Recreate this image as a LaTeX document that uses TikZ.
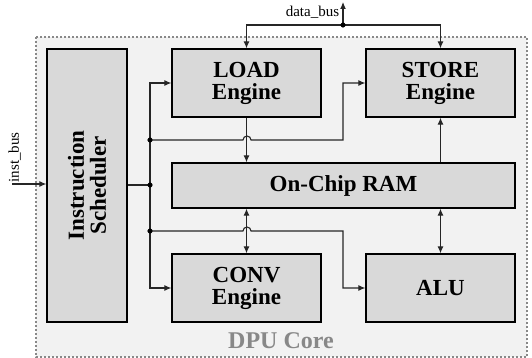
\documentclass[tikz,border=0pt]{standalone}
\usepackage{fontspec}
\setmainfont{Liberation Serif}
\usetikzlibrary{%
	calc,%
	arrows.meta%
}

\definecolor{coregray}{RGB}{242,242,242}
\definecolor{boxgray}{RGB}{217,217,217}
\definecolor{labelgray}{RGB}{136,136,136}

\tikzset{
	unit/.style={draw=black, line width=1.3pt, fill=boxgray, align=center,
		font=\fontsize{23}{22}\selectfont\bfseries, inner sep=0pt},
	link/.style={draw=black!85, line width=1.1pt},
	bus/.style={font=\fontsize{15}{16}\selectfont}
}

\begin{document}
\begin{tikzpicture}[>={Latex[length=7pt,width=6pt]}, x=1pt, y=-1pt]
				\useasboundingbox (0,0) rectangle (532,358);
				
				% Core
				\draw[labelgray, dash pattern=on 2pt off 2pt, line width=1.1pt, fill=coregray] (36,37) rectangle (527,357);
				\node[labelgray, font=\fontsize{24}{24}\selectfont\bfseries] (core) at (281,341) {DPU Core};
				
				% Units
				\node[unit, minimum width=80pt, minimum height=273pt] (sched) at (87,185.5) {};
				\node[rotate=90, align=center, font=\fontsize{23}{22}\selectfont\bfseries] (schedtext) at (sched.center) {Instruction\\Scheduler};
				\node[unit, minimum width=149pt, minimum height=68pt] (load) at (246.5,83) {LOAD\\Engine};
				\node[unit, minimum width=149pt, minimum height=68pt] (store) at (440.5,83) {STORE\\Engine};
				\node[unit, minimum width=343pt, minimum height=45pt] (ram) at (343.5,185.5) {On-Chip RAM};
				\node[unit, minimum width=149pt, minimum height=68pt] (conv) at (246.5,288) {CONV\\Engine};
				\node[unit, minimum width=149pt, minimum height=68pt] (alu) at (440.5,288) {ALU};
				
				% Junctions
				\coordinate (j0) at (150,185);
				\coordinate (j1) at (150,140);
				\coordinate (j2) at (150,231);
				\coordinate (jd) at (343,25);
				\coordinate (dtop) at (343,2);
				\coordinate (itail) at (12,184);
				
				% Buses
				\draw[link, ->] (jd) -- (dtop) node[bus, left, pos=0.55]{data\_bus};
				\draw[link, ->] (jd) -| (load.north);
				\draw[link, ->] (jd) -| (store.north);
				\draw[link, ->] (itail) -- (sched.west |- itail) node[bus, rotate=90, pos=0.3, anchor=south west, inner sep=1pt]{inst\_bus};
				
				% Scheduler outputs
				\draw[link] (sched.east |- j0) -- (j0);
				\draw[link, ->] (j0) -- (150,83) -- (load.west);
				\draw[link, ->] (j0) -- (150,288) -- (conv.west);
				\draw[link, ->] (j1) -- (243,140) arc (180:360:4) -- (343,140) -- (343,83) -- (store.west);
				\draw[link, ->] (j2) -- (243,231) arc (180:360:4) -- (343,231) -- (343,288) -- (alu.west);
				
				% Data paths
				\draw[link, ->] (load.south) -- (ram.north -| load.south);
				\draw[link, <->] (ram.south -| conv.north) -- (conv.north);
				\draw[link, ->] (ram.north -| store.south) -- (store.south);
				\draw[link, <->] (ram.south -| alu.north) -- (alu.north);
				
				% Junction dots
				\foreach \vertex in {j0,j1,j2,jd}
				\draw[fill=black] (\vertex) circle (2.3pt);
			\end{tikzpicture}
\end{document}
